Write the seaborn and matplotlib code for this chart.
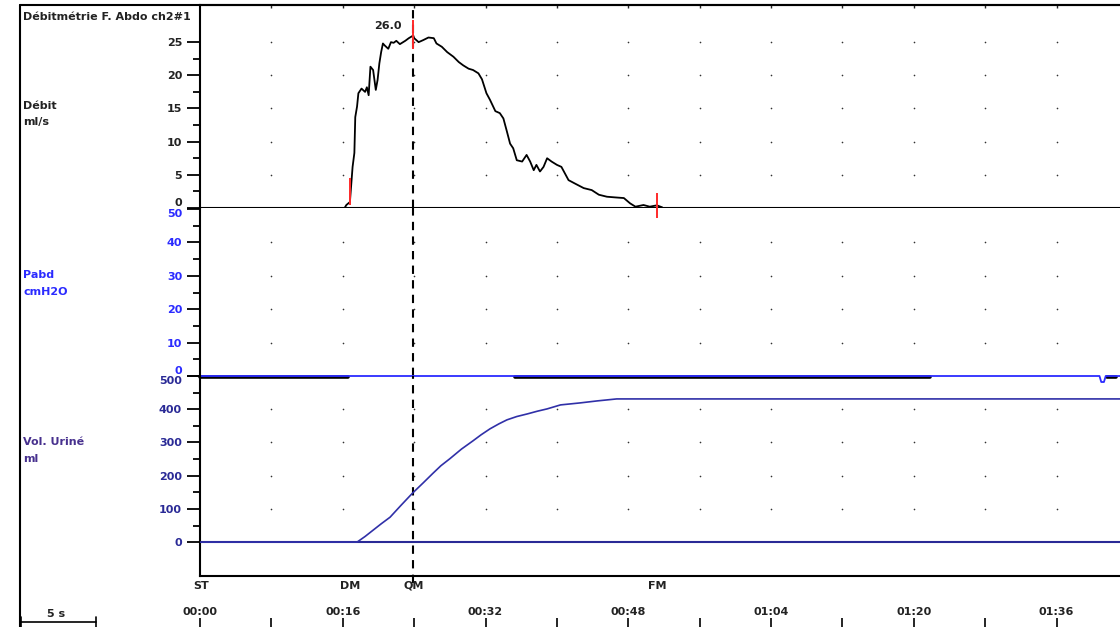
import numpy as np
import pandas as pd
import matplotlib
matplotlib.use("Agg")
import matplotlib.pyplot as plt
import seaborn as sns
from matplotlib.lines import Line2D
from matplotlib.ticker import FixedLocator
import matplotlib.transforms as mtransforms

# ---- data ----
flow_t = [16.2, 16.4, 16.8, 17.1, 17.3, 17.4, 17.6, 17.75, 18.1, 18.5, 18.7, 18.9,
          19.1, 19.4, 19.7, 19.9, 20.1, 20.3, 20.5, 20.7, 21.1, 21.4, 21.7, 22.0,
          22.4, 23.0, 23.4, 23.9, 24.0, 24.5, 25.0, 25.6, 26.2, 26.5, 27.1, 27.7,
          28.4, 29.0, 29.5, 30.1, 30.6, 31.2, 31.6, 32.1, 32.5, 33.1, 33.6, 34.0,
          34.4, 34.75, 35.1, 35.5, 36.1, 36.6, 37.0, 37.4, 37.7, 38.1, 38.5, 38.9,
          39.4, 40.0, 40.5, 40.9, 41.3, 42.0, 43.0, 43.9, 44.7, 45.6, 46.5, 47.5,
          48.2, 48.8, 49.7, 50.4, 51.2, 51.8]
flow = [0.0, 0.45, 0.9, 6.2, 8.3, 13.7, 15.3, 17.3, 18.0, 17.5, 18.2, 17.0,
        21.3, 20.8, 17.8, 19.3, 21.8, 23.5, 24.8, 24.5, 24.0, 25.0, 24.9, 25.2,
        24.7, 25.2, 25.6, 26.0, 25.6, 25.0, 25.3, 25.7, 25.6, 24.8, 24.3, 23.5,
        22.8, 22.0, 21.5, 21.0, 20.8, 20.3, 19.4, 17.3, 16.3, 14.6, 14.3, 13.5,
        11.5, 9.7, 9.0, 7.2, 7.0, 8.0, 7.0, 5.7, 6.5, 5.5, 6.2, 7.5,
        7.0, 6.5, 6.2, 5.2, 4.2, 3.7, 3.0, 2.7, 2.0, 1.7, 1.6, 1.5,
        0.7, 0.2, 0.45, 0.2, 0.4, 0.1]

pabd_t = [0.0, 100.8, 101.0, 101.3, 101.5, 103.1]
pabd = [0.0, 0.0, -1.8, -1.8, 0.0, 0.0]
pabd2_t = [0.0, 16.6, np.nan, 35.3, 81.8, np.nan, 101.6, 102.6]
pabd2 = [-0.35, -0.35, np.nan, -0.35, -0.35, np.nan, -0.35, -0.35]

vol_t = [0.0, 17.6, 18.5, 19.4, 20.3, 21.3, 22.5, 23.8, 25.0, 26.1, 27.0, 28.0,
         29.3, 30.6, 31.5, 32.5, 33.5, 34.4, 35.5, 36.7, 37.8, 38.9, 40.4, 42.6,
         44.5, 46.7, 103.1]
vol = [0, 0, 17, 36, 55, 75, 110, 147, 178, 207, 230, 251,
       280, 305, 323, 341, 356, 368, 378, 386, 394, 401, 413, 419,
       425, 431, 431]

event_names = ["ST", "DM", "QM", "FM"]
event_t = [0.1, 16.8, 23.9, 51.2]
mark_t = [16.8, 23.9, 51.2]
mark_lo = [0.5, 24.0, -1.5]
mark_hi = [4.5, 28.3, 2.3]
peak_value = 26.0

flow_ticks = [0, 5, 10, 15, 20, 25]
pabd_ticks = [0, 10, 20, 30, 40, 50]
vol_ticks = [0, 100, 200, 300, 400, 500]
time_major = [0, 16, 32, 48, 64, 80, 96]
time_labels = ["00:00", "00:16", "00:32", "00:48", "01:04", "01:20", "01:36"]
time_minor = [8, 24, 40, 56, 72, 88, 104]
xmax = 103.1

# ---- style ----
sns.set_style("white")
plt.rcParams["font.family"] = ["DejaVu Sans"]
plt.rcParams["font.weight"] = "bold"
FS = 8
BLUE = "#2b2bff"
NAVY = "#2a2a96"
PURPLE = "#47308e"

fig = plt.figure(figsize=(11.2, 6.27), dpi=100)
H = 627.0
L, W = 200 / 1120, 920 / 1120


def box(top, bottom):
    return [L, 1 - bottom / H, W, (bottom - top) / H]


ax1 = fig.add_axes(box(5, 208))
ax2 = fig.add_axes(box(208, 376))
ax3 = fig.add_axes(box(376, 576))

panels = [
    (ax1, flow_ticks, (0, 30.6), "#222222"),
    (ax2, pabd_ticks, (0, 50.3), BLUE),
    (ax3, vol_ticks, (-102, 500), NAVY),
]
grid_x = time_minor[:-1] + time_major[1:]
for ax, ticks, ylim, col in panels:
    ax.set_facecolor("none")
    ax.set_xlim(0, xmax)
    ax.set_ylim(*ylim)
    for s in ax.spines.values():
        s.set_visible(False)
    ax.spines["left"].set_visible(True)
    ax.spines["left"].set_color("black")
    ax.spines["left"].set_linewidth(1.5)
    ax.set_yticks(ticks)
    mids = [(a + b) / 2 for a, b in zip(ticks[:-1], ticks[1:])]
    ax.yaxis.set_minor_locator(FixedLocator(mids))
    ax.tick_params(axis="y", which="major", direction="out", length=9.4, width=1.3,
                   color="black", labelcolor=col, labelsize=FS, pad=3.5, left=True)
    ax.tick_params(axis="y", which="minor", direction="out", length=5, width=1.3,
                   color="black", left=True)
    ax.set_xticks([])
    ax.set_xlabel("")
    ax.set_ylabel("")
    # dotted grid at the intersections
    gy = [v for v in ticks if v not in (0, ticks[-1])] if ax is not ax1 else ticks[1:]
    gx, gyy = np.meshgrid(sorted(grid_x), gy)
    ax.scatter(gx.ravel(), gyy.ravel(), s=1.4, color="#333333", lw=0, zorder=1)

# label alignment at panel joins
ax1.yaxis.get_major_ticks()[0].label1.set_va("bottom")
ax2.yaxis.get_major_ticks()[0].label1.set_va("bottom")
ax2.yaxis.get_major_ticks()[-1].label1.set_va("top")
ax3.yaxis.get_major_ticks()[-1].label1.set_va("top")

# top spine with small inward ticks
ax1.spines["top"].set_visible(True)
ax1.spines["top"].set_color("black")
ax1.spines["top"].set_linewidth(1.5)
ax1.set_xticks(sorted(grid_x))
ax1.tick_params(axis="x", top=True, bottom=False, direction="in", length=2.5,
                width=1, labelbottom=False, labeltop=False)

ax3.spines["bottom"].set_visible(True)
ax3.spines["bottom"].set_color("black")
ax3.spines["bottom"].set_linewidth(1.5)

# ---- traces ----
ax1.axhline(0, color="black", lw=1.5, zorder=2)
sns.lineplot(x=flow_t, y=flow, ax=ax1, color="black", lw=1.3, sort=False,
             estimator=None, zorder=3)
ax1.vlines(mark_t, mark_lo, mark_hi, color="#ff2a2a", lw=1.4, zorder=4, clip_on=False)
ax1.text(event_t[2] - 1.3, 27.4, f"{peak_value:.1f}", ha="right", va="center",
         fontsize=FS, color="#222222")

ax2.plot(pabd2_t, pabd2, color="black", lw=2.6, clip_on=False, zorder=2)
ax2.plot(pabd_t, pabd, color=BLUE, lw=1.3, clip_on=False, zorder=3)

ax3.axhline(0, color=NAVY, lw=1.5, zorder=2)
sns.lineplot(x=vol_t, y=vol, ax=ax3, color="#3030a8", lw=1.2, sort=False,
             estimator=None, zorder=3)

# QM dashed cursor
for ax in (ax1, ax2):
    ax.axvline(event_t[2], color="black", ls=(0, (4, 3)), lw=1.5, zorder=1)
ax3.axvline(event_t[2], ymin=-0.035, ymax=1, color="black", ls=(0, (4, 3)),
            lw=1.5, zorder=1, clip_on=False)

# event labels below the bottom axis
trans = mtransforms.blended_transform_factory(ax3.transData, ax3.transAxes)
for name, t in zip(event_names, event_t):
    ax3.text(t, -0.05, name, transform=trans, ha="center", va="center",
             fontsize=FS, color="#222222", clip_on=False)

# ---- time axis at the very bottom ----
ax4 = fig.add_axes([L, 0, W, 9 / H])
ax4.set_facecolor("none")
for s in ax4.spines.values():
    s.set_visible(False)
ax4.set_xlim(0, xmax)
ax4.set_yticks([])
ax4.set_xticks(time_major)
ax4.set_xticklabels(time_labels)
ax4.xaxis.set_minor_locator(FixedLocator(time_minor))
ax4.tick_params(axis="x", which="both", bottom=True, top=False, direction="in",
                length=6.5, width=1.2, labelbottom=False, labeltop=True,
                labelsize=FS, pad=0.5, color="black", labelcolor="#222222")

# ---- frame and side labels ----
ytop = 1 - 5 / H
fig.add_artist(Line2D([20 / 1120, 1], [ytop, ytop], color="black", lw=1.5))
fig.add_artist(Line2D([20 / 1120, 20 / 1120], [0, ytop], color="black", lw=1.5))

def fig_text(x, y, s, color, **kw):
    fig.text(x / 1120, 1 - y / H, s, color=color, fontsize=FS, ha="left",
             va="center", **kw)

fig_text(23, 17, "Débitmétrie F. Abdo ch2#1", "#222222")
fig_text(23, 106, "Débit", "#222222")
fig_text(23, 122, "ml/s", "#222222")
fig_text(23, 275, "Pabd", BLUE)
fig_text(23, 292, "cmH2O", BLUE)
fig_text(23, 442, "Vol. Uriné", PURPLE)
fig_text(23, 459, "ml", PURPLE)

# 5 s scale bar
yb = 1 - 622 / H
fig.add_artist(Line2D([21 / 1120, 96 / 1120], [yb, yb], color="black", lw=1.2))
for xb in (21, 96):
    fig.add_artist(Line2D([xb / 1120, xb / 1120], [0, 1 - 617 / H], color="black", lw=1.2))
fig.text(56 / 1120, 1 - 614 / H, "5 s", color="#222222", fontsize=FS,
         ha="center", va="center")

fig.savefig("out.png", dpi=100)
